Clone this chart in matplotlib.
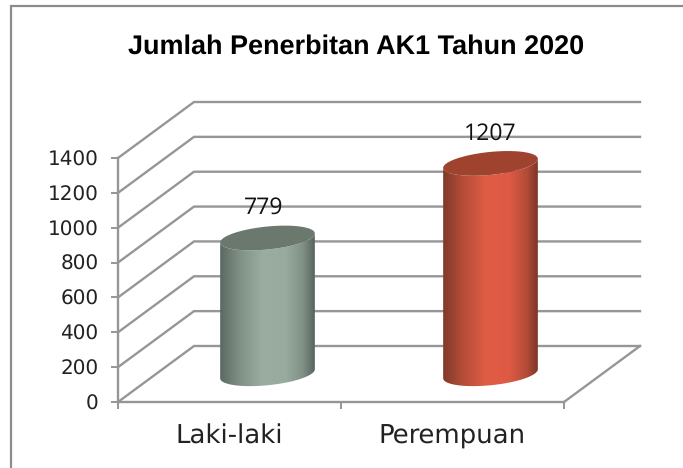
import numpy as np
import matplotlib
matplotlib.use('Agg')
import matplotlib.pyplot as plt
from matplotlib.colors import LinearSegmentedColormap
from matplotlib.patches import PathPatch, Rectangle
from matplotlib.path import Path

plt.rcParams['text.hinting'] = 'none'
plt.rcParams['text.hinting_factor'] = 1

categories = ['Laki-laki', 'Perempuan']
values = [779, 1207]
yticks = [0, 200, 400, 600, 800, 1000, 1200, 1400]
title = 'Jumlah Penerbitan AK1 Tahun 2020'

W, H = 683, 468
fig = plt.figure(figsize=(W/100, H/100), dpi=100)
fig.patch.set_facecolor('white')

# outer chart border
fig.add_artist(Rectangle((11/W, 1-(H+5)/H), (W+10)/W, (H-1)/H, transform=fig.transFigure,
                         fill=False, ec='#8c8c8c', lw=1.6))

# front plane of the 3d box, pixels
ax = fig.add_axes([118/W, 1-402/H, (564-118)/W, (402-158)/H])
ax.set_xlim(0, 2)
ax.set_ylim(0, 1400)
ax.patch.set_visible(False)

grid_col = '#969696'
dep_x = 76/223.0      # depth shift in category units
dep_y = 56/(244/1400.0)  # depth shift in value units

for s in ['top', 'right']:
    ax.spines[s].set_visible(False)
for s in ['left', 'bottom']:
    ax.spines[s].set_color(grid_col)
    ax.spines[s].set_linewidth(1.7)

for v in yticks:
    ax.plot([0, dep_x, 2+dep_x], [v, v+dep_y, v+dep_y], color=grid_col, lw=1.7,
            clip_on=False, zorder=1, solid_joinstyle='miter')
ax.plot([2, 2+dep_x], [0, dep_y], color=grid_col, lw=1.7, clip_on=False, zorder=1)

ax.set_xticks([0, 1, 2])
ax.set_xticks([0.5, 1.5], minor=True)
ax.set_xticklabels([])
ax.set_xticklabels(categories, minor=True, fontsize=18.5, color='#222222')
ax.tick_params(axis='x', which='major', length=5, width=1.4, color=grid_col)
ax.tick_params(axis='x', which='minor', length=0, pad=16)
ax.set_yticks(yticks)
ax.set_yticklabels([str(v) for v in yticks], fontsize=14.5, color='#222222')
ax.tick_params(axis='y', length=5, width=1.4, color=grid_col, pad=9)

fig.text(356/W, 1-47/H, title, ha='center', va='center', fontsize=19.1, fontweight='bold',
         family='Liberation Sans', color='black')

green = LinearSegmentedColormap.from_list('g', [(0, '#5a6a62'), (0.2, '#7f8f85'), (0.45, '#9badA0'),
                                                (0.7, '#98aa9d'), (0.88, '#7f8f85'), (1, '#56645d')])
red = LinearSegmentedColormap.from_list('r', [(0, '#80392a'), (0.2, '#b34c38'), (0.45, '#e05c45'),
                                              (0.7, '#de5a44'), (0.88, '#b34c38'), (1, '#7d3728')])
caps = ['#6b786e', '#9f432f']
cmaps = [green, red]
label_dx = [-0.015, 0.0]

a = 0.2123          # half width in category units
b = 66.0            # ellipse half height in value units
sh = 26.0           # tilt of the ellipse
base = 162.0        # base centre, half way in the depth
t = np.linspace(0, 2*np.pi, 121)
grad = np.linspace(0, 1, 256).reshape(1, -1)

for i, v in enumerate(values):
    cx = i + 0.5 + dep_x/2
    ex = cx + a*np.cos(t)
    lower = t[60:]  # left to right along the front edge
    bx = cx + a*np.cos(lower)
    by_bot = base + sh*np.cos(lower) + b*np.sin(lower)
    by_top = base + v + sh*np.cos(lower) + b*np.sin(lower)
    verts = list(zip(bx, by_bot)) + list(zip(bx[::-1], by_top[::-1]))
    body = PathPatch(Path(verts + [verts[0]]), fc='none', ec='none', transform=ax.transData)
    ax.add_patch(body)
    im = ax.imshow(grad, cmap=cmaps[i], extent=[cx-a, cx+a, 0, 1400], aspect='auto', zorder=3)
    im.set_clip_path(body)
    ax.fill(ex, base + v + sh*np.cos(t) + b*np.sin(t), color=caps[i], lw=0, zorder=4, clip_on=False)
    ax.text(cx + label_dx[i], base + v + 172, str(v), ha='center', va='center',
            fontsize=16.5, family='Open Sans', color='#111111', zorder=5)

ax.set_xlim(0, 2)
ax.set_ylim(0, 1400)

plt.savefig('out.png', dpi=100)
